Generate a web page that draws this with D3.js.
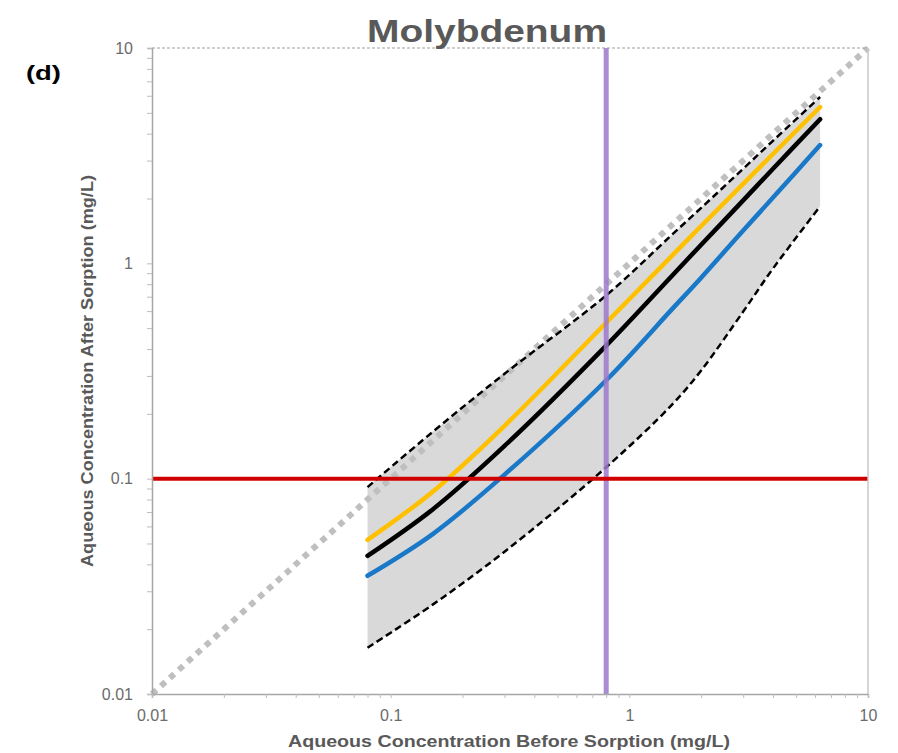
<!DOCTYPE html>
<html>
<head>
<meta charset="utf-8">
<script src="https://cdn.jsdelivr.net/npm/d3@7/dist/d3.min.js"></script>
<style>
  html, body { margin: 0; padding: 0; background: #fff; }
  svg { display: block; font-family: "Liberation Sans", Arial, sans-serif; }
</style>
</head>
<body>
<svg id="chart" width="898" height="753"></svg>
<script>
// ---- data ----
const chartTitle = "Molybdenum";
const panelLabel = "(d)";
const xTitle = "Aqueous Concentration Before Sorption (mg/L)";
const yTitle = "Aqueous Concentration After Sorption (mg/L)";
const majorTicks = [0.01, 0.1, 1, 10];
const majorTickLabels = ["0.01", "0.1", "1", "10"];

const concBefore  = [0.08, 0.15, 0.3, 0.8, 1.5, 2, 3, 4, 6.3];
const yellowAfter = [0.052, 0.087, 0.176, 0.53, 1.077, 1.49, 2.34, 3.22, 5.32];
const blackAfter  = [0.0438, 0.072, 0.142, 0.415, 0.869, 1.22, 1.96, 2.75, 4.67];
const blueAfter   = [0.0354, 0.0553, 0.1044, 0.2865, 0.608, 0.858, 1.42, 2.02, 3.54];
const upperAfter  = [0.0914, 0.165, 0.307, 0.71, 1.35, 1.81, 2.75, 3.71, 5.92];
const lowerAfter  = [0.0164, 0.026, 0.0458, 0.113, 0.219, 0.318, 0.597, 0.946, 1.84];

const oneToOne = [0.01, 10];
const thresholdAfter = 0.1;   // red horizontal line
const thresholdBefore = 0.8;  // purple vertical line

// ---- layout ----
const svg = d3.select("#chart");
const L = 152, R = 868, T = 48, B = 694;

const x = d3.scaleLog().domain([0.01, 10]).range([L, R]);
const y = d3.scaleLog().domain([0.01, 10]).range([B, T]);

const zip = (xs, ys) => xs.map((v, i) => [v, ys[i]]);
const curve = d3.curveCatmullRom.alpha(0.5);

// band between bounds
const area = d3.area()
  .x((d, i) => x(concBefore[i]))
  .y0((d, i) => y(lowerAfter[i]))
  .y1((d, i) => y(upperAfter[i]))
  .curve(curve);
svg.append("path").datum(concBefore).attr("d", area)
  .attr("fill", "#d9d9d9").attr("stroke", "none");

// 1:1 line
svg.append("line")
  .attr("x1", x(oneToOne[0])).attr("y1", y(oneToOne[0]))
  .attr("x2", x(oneToOne[1])).attr("y2", y(oneToOne[1]))
  .attr("stroke", "#bfbfbf").attr("stroke-width", 6)
  .attr("stroke-dasharray", "6,6");

const line = d3.line().x(d => x(d[0])).y(d => y(d[1])).curve(curve);

// bounds (dashed)
[upperAfter, lowerAfter].forEach(s => {
  svg.append("path").datum(zip(concBefore, s)).attr("d", line)
    .attr("fill", "none").attr("stroke", "#000").attr("stroke-width", 2.5)
    .attr("stroke-dasharray", "7,4");
});

// central curves
[[yellowAfter, "#ffc000"], [blackAfter, "#000000"], [blueAfter, "#1a78c8"]].forEach(([s, c]) => {
  svg.append("path").datum(zip(concBefore, s)).attr("d", line)
    .attr("fill", "none").attr("stroke", c).attr("stroke-width", 4.5)
    .attr("stroke-linecap", "round");
});

// purple vertical line
svg.append("line")
  .attr("x1", x(thresholdBefore)).attr("x2", x(thresholdBefore))
  .attr("y1", T).attr("y2", B)
  .attr("stroke", "#9a78cc").attr("stroke-opacity", 0.85).attr("stroke-width", 5);

// red horizontal line
svg.append("line")
  .attr("x1", L).attr("x2", R)
  .attr("y1", y(thresholdAfter)).attr("y2", y(thresholdAfter))
  .attr("stroke", "#d00000").attr("stroke-width", 4);

// frame
svg.append("line").attr("x1", L).attr("x2", R).attr("y1", T).attr("y2", T)
  .attr("stroke", "#a0a0a0").attr("stroke-width", 1.2).attr("stroke-dasharray", "3,2");
svg.append("line").attr("x1", R).attr("x2", R).attr("y1", T).attr("y2", B)
  .attr("stroke", "#c8c8c8").attr("stroke-width", 1.5);

// axes
const allTicks = [];
for (let e = -2; e < 1; e++) for (let m = 1; m < 10; m++) allTicks.push(m * Math.pow(10, e));
allTicks.push(10);
const fmt = d => { const i = majorTicks.indexOf(+d.toPrecision(6)); return i >= 0 ? majorTickLabels[i] : ""; };

const gy = svg.append("g").attr("transform", `translate(${L},0)`)
  .call(d3.axisLeft(y).tickValues(allTicks).tickSize(5).tickFormat(fmt).tickPadding(14));
const gx = svg.append("g").attr("transform", `translate(0,${B})`)
  .call(d3.axisBottom(x).tickValues(allTicks).tickSize(4).tickFormat(fmt).tickPadding(12));

[gx, gy].forEach(g => {
  g.select(".domain").attr("stroke", "#a6a6a6").attr("stroke-width", 1.5);
  g.selectAll(".tick line").attr("stroke", "#bdbdbd").attr("stroke-width", 1);
  g.selectAll(".tick text").attr("fill", "#6b6b6b").attr("font-size", 16)
    .attr("font-family", "'Liberation Sans', Arial, sans-serif");
});

// titles
svg.append("text").attr("x", 487).attr("y", 42).attr("text-anchor", "middle")
  .attr("font-size", 31).attr("font-weight", "bold").attr("fill", "#595959")
  .attr("textLength", 240).attr("lengthAdjust", "spacingAndGlyphs")
  .text(chartTitle);

svg.append("text").attr("x", 26).attr("y", 80)
  .attr("font-size", 21).attr("font-weight", "bold").attr("fill", "#000")
  .attr("textLength", 35).attr("lengthAdjust", "spacingAndGlyphs")
  .text(panelLabel);

svg.append("text").attr("x", 509).attr("y", 747).attr("text-anchor", "middle")
  .attr("font-size", 17).attr("font-weight", "bold").attr("fill", "#595959")
  .attr("textLength", 442).attr("lengthAdjust", "spacingAndGlyphs")
  .text(xTitle);

svg.append("text").attr("transform", "translate(93,371) rotate(-90)").attr("text-anchor", "middle")
  .attr("font-size", 16).attr("font-weight", "bold").attr("fill", "#595959")
  .attr("textLength", 392).attr("lengthAdjust", "spacingAndGlyphs")
  .text(yTitle);
</script>
</body>
</html>
